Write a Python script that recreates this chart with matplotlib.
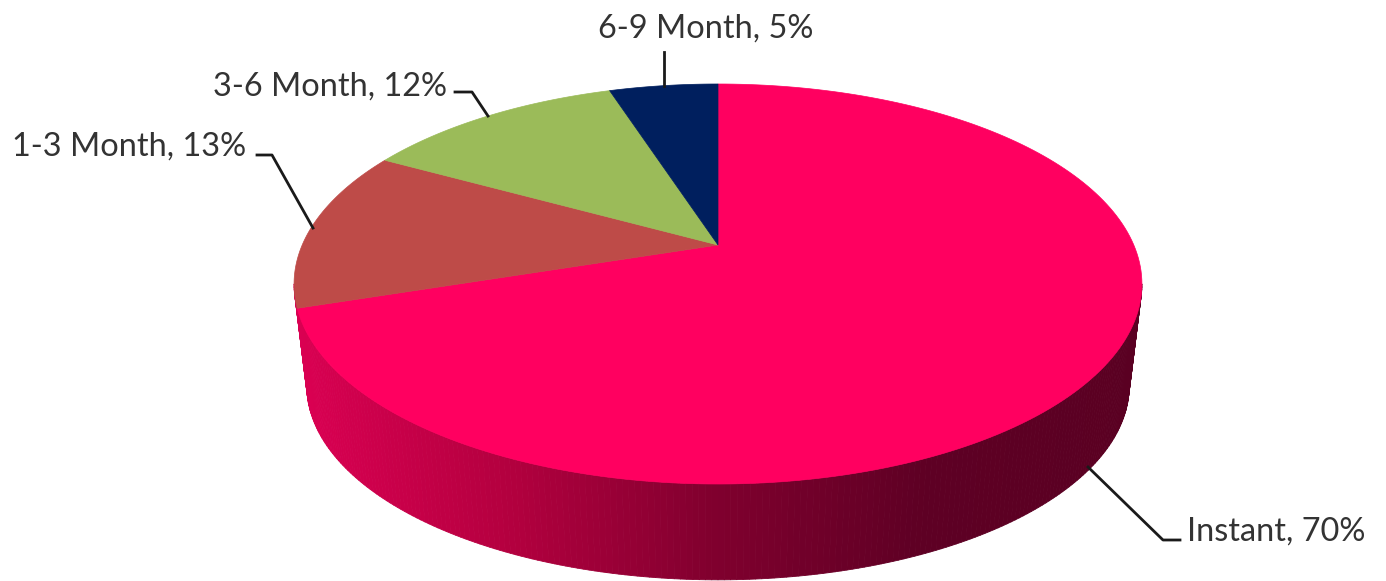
import matplotlib
matplotlib.use("Agg")
import matplotlib.pyplot as plt
from matplotlib.collections import PolyCollection
from matplotlib.colors import LinearSegmentedColormap
import numpy as np

categories = ["Instant", "1-3 Month", "3-6 Month", "6-9 Month"]
shares = [70, 13, 12, 5]
colors = ["#FF0060", "#BE4B48", "#9BBB59", "#001F5E"]

# pie geometry, pixels of the 1386x581 picture
CX, CY = 718, 245
TILT = 0.195
SCALE_X, SCALE_Y = 415.8, 192.4
BASE_SCALE, BASE_DROP = 0.97, 103

# text left edge, baseline y, then the leader line
label_pos = [(1187, 541), (12, 156), (213, 96), (598, 38)]
leaders = [
    [(1088, 467), (1163, 540), (1180, 540)],
    [(257, 155), (272, 155), (313, 228)],
    [(455, 92), (472, 92), (488, 116)],
    [(664, 52), (664, 86)],
]

side_cmap = LinearSegmentedColormap.from_list(
    "side", ["#DA0052", "#B4003F", "#80002E", "#5E0024", "#5A0022"])


def project(angle, base=False):
    # angle in degrees clockwise from the top of the pie
    a = np.radians(angle)
    x, y = np.sin(a), np.cos(a)
    w = 1 + TILT * y
    px, py = SCALE_X * x / w, -SCALE_Y * y / w
    if base:
        return CX + BASE_SCALE * px, CY + BASE_DROP + BASE_SCALE * py
    return CX + px, CY + py


fig = plt.figure(figsize=(13.86, 5.81), dpi=100)
ax = fig.add_axes([0, 0, 1, 1])
ax.set_xlim(0, 1386)
ax.set_ylim(581, 0)
ax.axis("off")

# front wall, thin strips coloured by where they sit across the pie
edge = np.degrees(np.arccos(-TILT))
strip_angles = np.linspace(edge, 360 - edge, 221)
top_x, top_y = project(strip_angles)
low_x, low_y = project(strip_angles, base=True)
strips = []
strip_colors = []
for i in range(len(strip_angles) - 1):
    strips.append([(top_x[i], top_y[i]), (top_x[i + 1], top_y[i + 1]),
                   (low_x[i + 1], low_y[i + 1]), (low_x[i], low_y[i])])
    strip_colors.append(side_cmap((top_x[i] - 294) / 848))
ax.add_collection(PolyCollection(strips, facecolors=strip_colors,
                                 edgecolors="face", linewidths=0.6))

# top face
start = 0
for share, color in zip(shares, colors):
    stop = start + share * 3.6
    arc = np.linspace(start, stop, 200)
    arc_x, arc_y = project(arc)
    ax.fill(np.r_[CX, arc_x], np.r_[CY, arc_y], color=color, lw=0.5)
    start = stop

for cat, share, pos, line in zip(categories, shares, label_pos, leaders):
    ax.text(pos[0], pos[1], cat + ", " + str(share) + "%", family="Lato",
            fontsize=23.4, color="#333333", ha="left", va="baseline")
    lx, ly = zip(*line)
    ax.plot(lx, ly, color="#1a1a1a", lw=2)

fig.savefig("out.png", dpi=100)
